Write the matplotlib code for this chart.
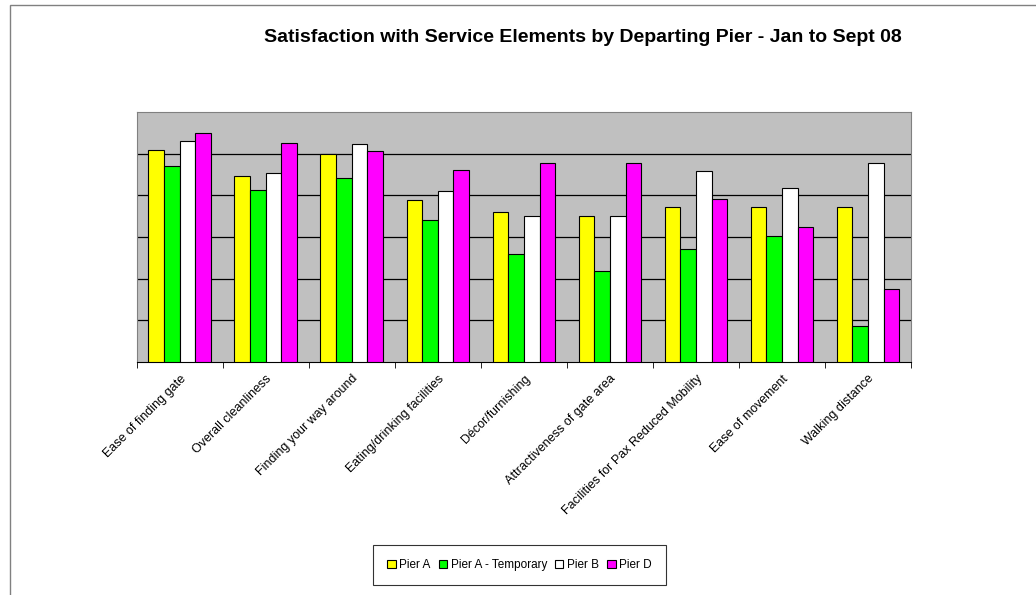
import matplotlib

matplotlib.use("Agg")
import matplotlib.pyplot as plt
import numpy as np
from matplotlib.patches import Rectangle

plt.rcParams["font.family"] = ["Liberation Sans", "DejaVu Sans"]

categories = [
    "Ease of finding gate",
    "Overall cleanliness",
    "Finding your way around",
    "Eating/drinking facilities",
    "Décor/furnishing",
    "Attractiveness of gate area",
    "Facilities for Pax Reduced Mobility",
    "Ease of movement",
    "Walking distance",
]
pier_a = [5.09, 4.46, 5.00, 3.89, 3.59, 3.50, 3.72, 3.72, 3.72]
pier_a_temp = [4.70, 4.13, 4.43, 3.40, 2.60, 2.18, 2.70, 3.03, 0.85]
pier_b = [5.30, 4.54, 5.23, 4.10, 3.50, 3.50, 4.58, 4.19, 4.79]
pier_d = [5.51, 5.27, 5.06, 4.60, 4.78, 4.78, 3.91, 3.25, 1.74]

series = [
    ("Pier A", pier_a, "#FFFF00"),
    ("Pier A - Temporary", pier_a_temp, "#00FF00"),
    ("Pier B", pier_b, "#FFFFFF"),
    ("Pier D", pier_d, "#FF00FF"),
]

W, H = 1036, 595
fig = plt.figure(figsize=(W / 100, H / 100), dpi=100)
fig.patches.append(Rectangle((10 / W, -0.1), 1.2, 1.1 - 5 / H, transform=fig.transFigure,
                             fill=False, edgecolor="#808080", linewidth=1.0))

ax = fig.add_axes([136.7 / W, 1 - 361.7 / H, (911 - 136.7) / W, (361.7 - 112.3) / H])
ax.set_facecolor("#C0C0C0")

x = np.arange(len(categories))
width = 0.182
for i, (name, vals, col) in enumerate(series):
    ax.bar(x + (i - 1.5) * width, vals, width, color=col, edgecolor="black",
           linewidth=0.8, label=name, zorder=3)

ax.set_xlim(-0.5, len(categories) - 0.5)
ax.set_ylim(0, 6)
ax.set_yticks(range(1, 6))
ax.tick_params(axis="y", left=False, labelleft=False)
ax.grid(axis="y", color="black", linewidth=0.9, zorder=1)

ax.set_xticks(x)
ax.set_xticklabels(categories, rotation=45, ha="right", va="top",
                   rotation_mode="anchor", fontsize=9)
ax.tick_params(axis="x", which="major", length=0, pad=8)
ax.set_xticks(np.arange(-0.5, len(categories)), minor=True)
ax.tick_params(axis="x", which="minor", length=4, color="black")

for s in ["top", "right", "left"]:
    ax.spines[s].set_color("#808080")
ax.spines["bottom"].set_color("black")

fig.text(583 / W, 1 - 37 / H, "Satisfaction with Service Elements by Departing Pier - Jan to Sept 08",
         ha="center", va="center", fontsize=14, fontweight="bold")

handles, labels = ax.get_legend_handles_labels()
leg = fig.legend(handles, labels, loc="center", bbox_to_anchor=(519.5 / W, 1 - 565 / H),
                 ncol=4, fontsize=8.5, frameon=True, fancybox=False, handlelength=0.7,
                 handleheight=0.7, handletextpad=0.3, columnspacing=0.7,
                 borderpad=1.2, borderaxespad=0)
leg.get_frame().set_edgecolor("black")
leg.get_frame().set_linewidth(0.8)

fig.savefig("out.png", dpi=100)
